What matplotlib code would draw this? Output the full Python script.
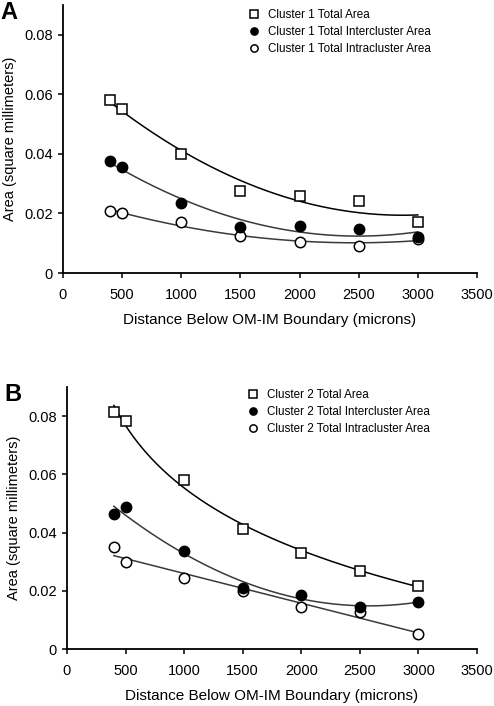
import numpy as np
import matplotlib.pyplot as plt

plt.rcParams['font.family'] = ['Liberation Sans', 'DejaVu Sans']

depth = [400, 500, 1000, 1500, 2000, 2500, 3000]

# cluster 1 (panel A)
c1_total = [0.058, 0.055, 0.040, 0.0275, 0.026, 0.024, 0.017]
c1_inter = [0.0375, 0.0355, 0.0235, 0.0153, 0.0158, 0.0148, 0.012]
c1_intra = [0.0208, 0.020, 0.017, 0.0125, 0.0105, 0.0092, 0.0115]

# cluster 2 (panel B)
c2_total = [0.0814, 0.0785, 0.058, 0.0414, 0.0331, 0.0269, 0.0216]
c2_inter = [0.0463, 0.0489, 0.0337, 0.0211, 0.0186, 0.0143, 0.0163]
c2_intra = [0.035, 0.0298, 0.0244, 0.0201, 0.0146, 0.0127, 0.0053]

xticks = [0, 500, 1000, 1500, 2000, 2500, 3000, 3500]
yticks = [0, 0.02, 0.04, 0.06, 0.08]
ytick_labels = ['0', '0.02', '0.04', '0.06', '0.08']


def trend(x, y, kind):
    x = np.array(x, float)
    y = np.array(y, float)
    xs = np.linspace(x.min(), x.max(), 200)
    if kind == 'poly':
        return xs, np.polyval(np.polyfit(x, y, 2), xs)
    if kind == 'lin':
        return xs, np.polyval(np.polyfit(x, y, 1), xs)
    if kind == 'log':
        return xs, np.polyval(np.polyfit(np.log(x), y, 1), np.log(xs))


def panel(ax, label, cl, total, inter, intra, fits, legpos):
    xs, ys = trend(depth, total, fits[0])
    ax.plot(xs, ys, color='black', lw=1.1, zorder=1)
    xs, ys = trend(depth, inter, fits[1])
    ax.plot(xs, ys, color='#3a3a3a', lw=1.1, zorder=1)
    xs, ys = trend(depth, intra, fits[2])
    ax.plot(xs, ys, color='#3a3a3a', lw=1.1, zorder=1)

    h1, = ax.plot(depth, total, 's', ms=7.5, mfc='white', mec='black', mew=1.1, zorder=3)
    h2, = ax.plot(depth, inter, 'o', ms=7.5, mfc='black', mec='black', zorder=3)
    h3, = ax.plot(depth, intra, 'o', ms=7.5, mfc='white', mec='black', mew=1.1, zorder=2)

    ax.set_xlim(0, 3500)
    ax.set_ylim(0, 0.09)
    ax.set_xticks(xticks)
    ax.set_yticks(yticks)
    ax.set_yticklabels(ytick_labels)
    ax.spines['top'].set_visible(False)
    ax.spines['right'].set_visible(False)
    ax.spines['left'].set_linewidth(1.3)
    ax.spines['bottom'].set_linewidth(1.3)
    ax.tick_params(direction='out', length=3.5, width=1.1, labelsize=10.5)
    ax.tick_params(axis='x', pad=7)
    ax.tick_params(axis='y', pad=4)
    ax.set_xlabel('Distance Below OM-IM Boundary (microns)', fontsize=11, labelpad=8)
    ax.set_ylabel('Area (square millimeters)', fontsize=10.5, labelpad=5)

    ax.legend([h1, h2, h3],
              ['Cluster %d Total Area' % cl,
               'Cluster %d Total Intercluster Area' % cl,
               'Cluster %d Total Intracluster Area' % cl],
              loc='upper left', bbox_to_anchor=legpos, frameon=False,
              fontsize=8.4, markerscale=0.7, handlelength=1.0,
              handletextpad=0.7, labelspacing=0.42, borderaxespad=0)
    ax.text(-0.152, 1.015, label, transform=ax.transAxes, fontsize=17,
            fontweight='bold', va='top', ha='left')


fig = plt.figure(figsize=(4.94, 7.06), dpi=100)
axA = fig.add_axes([0.1275, 0.6133, 0.838, 0.38])
axB = fig.add_axes([0.1356, 0.0807, 0.830, 0.371])

panel(axA, 'A', 1, c1_total, c1_inter, c1_intra, ('poly', 'poly', 'poly'), (0.437, 1.0))
panel(axB, 'B', 2, c2_total, c2_inter, c2_intra, ('log', 'poly', 'lin'), (0.428, 1.01))

fig.savefig('out.png', dpi=100)
